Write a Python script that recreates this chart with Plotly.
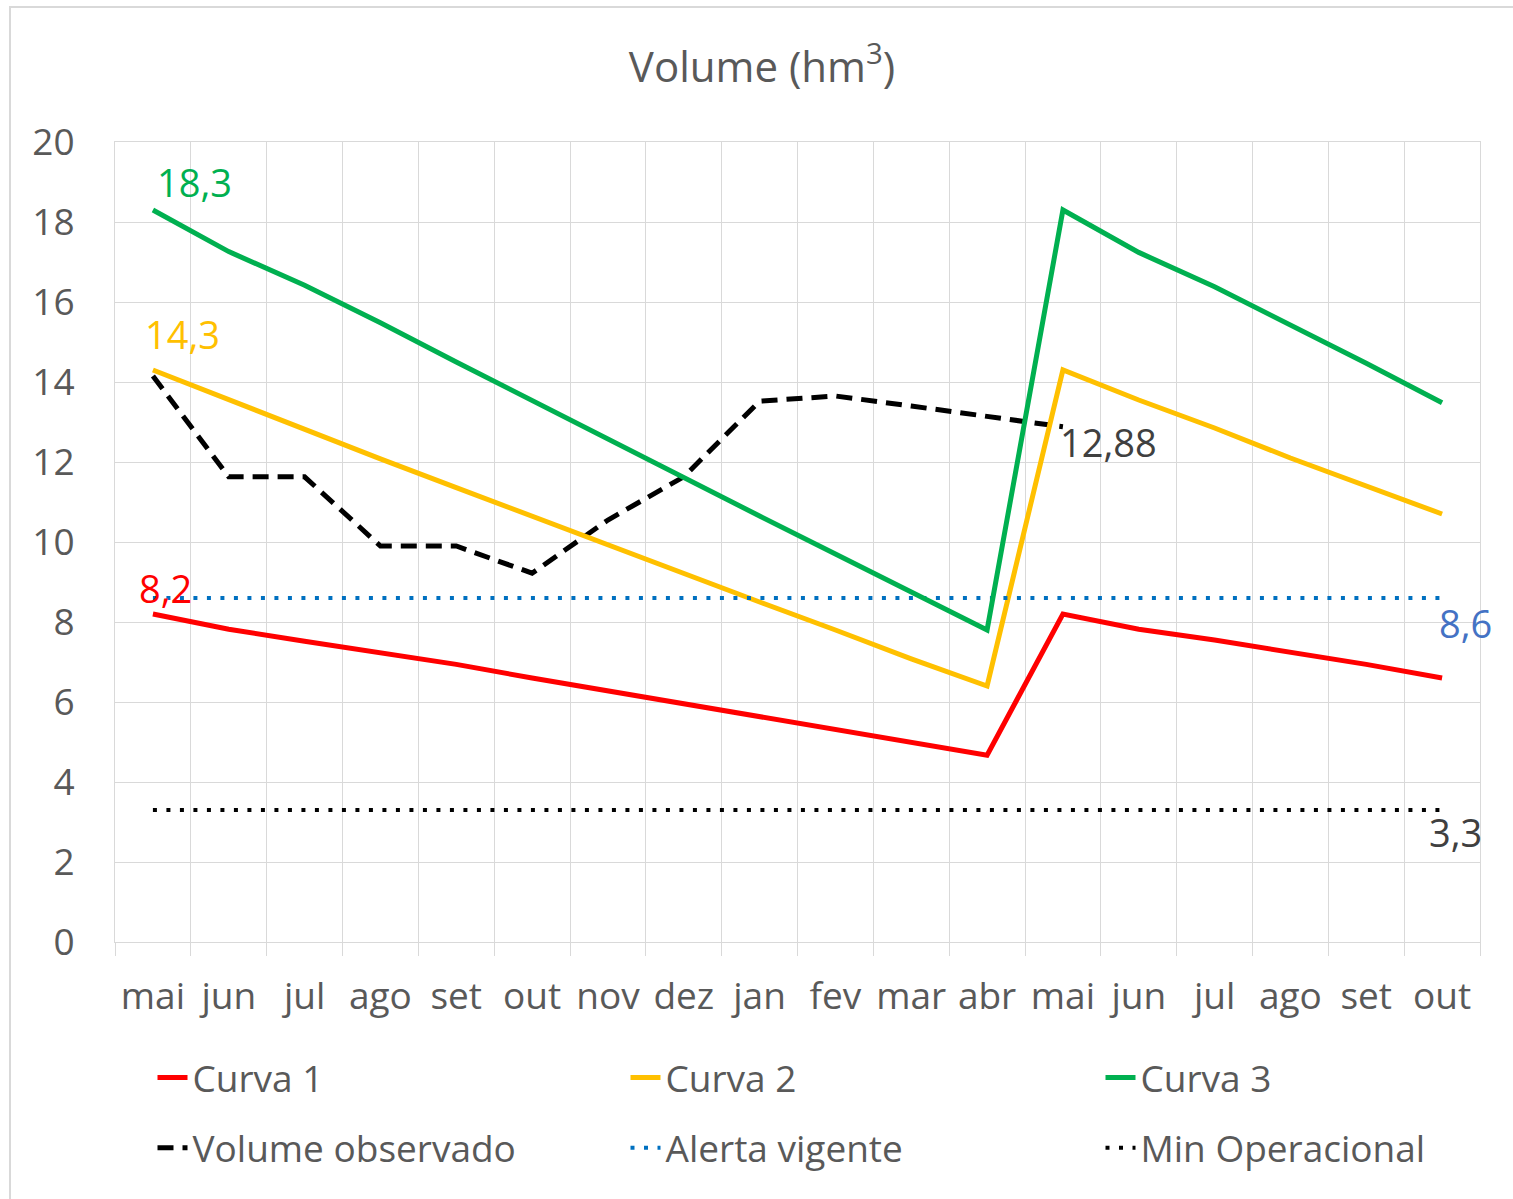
import plotly.graph_objects as go

months = ["mai", "jun", "jul", "ago", "set", "out", "nov", "dez", "jan",
          "fev", "mar", "abr", "mai", "jun", "jul", "ago", "set", "out"]
curva1 = [8.2, 7.82, 7.52, 7.24, 6.94, 6.6, 6.28, 5.95, 5.63, 5.3, 4.98, 4.67,
          8.2, 7.82, 7.55, 7.26, 6.94, 6.6]
curva2 = [14.3, 13.55, 12.82, 12.08, 11.36, 10.64, 9.92, 9.2, 8.5, 7.8, 7.08, 6.4,
          14.3, 13.55, 12.85, 12.1, 11.4, 10.7]
curva3 = [18.3, 17.26, 16.42, 15.48, 14.5, 13.53, 12.57, 11.6, 10.65, 9.7, 8.75, 7.8,
          18.3, 17.24, 16.38, 15.44, 14.47, 13.48]
observado = [14.15, 11.63, 11.63, 9.9, 9.9, 9.22, 10.55, 11.63, 13.52, 13.65, 13.4, 13.15,
             12.88]
alerta = [8.6] * 18
min_oper = [3.3] * 18
yticks = [0, 2, 4, 6, 8, 10, 12, 14, 16, 18, 20]

x = list(range(len(months)))
FONT = "Open Sans"
GRAY = "#595959"
GRID = "#D9D9D9"
FS = 37


def fmt(v):
    return str(v).replace(".", ",")


fig = go.Figure()
fig.add_trace(go.Scatter(x=x, y=curva1, mode="lines", name="Curva 1",
                         line=dict(color="#FF0000", width=5),
                         legend="legend", legendgroup="c1", legendrank=1))
fig.add_trace(go.Scatter(x=x[:len(observado)], y=observado, mode="lines",
                         name="Volume observado",
                         line=dict(color="#000000", width=5, dash="16px,9px"),
                         legend="legend", legendgroup="vo", legendrank=2))
fig.add_trace(go.Scatter(x=x, y=curva2, mode="lines", name="Curva 2",
                         line=dict(color="#FFC000", width=5),
                         legend="legend2", legendgroup="c2", legendrank=1))
fig.add_trace(go.Scatter(x=x, y=alerta, mode="lines", name="Alerta vigente",
                         line=dict(color="#0070C0", width=4, dash="4px,9.5px"),
                         legend="legend2", legendgroup="al", legendrank=2))
fig.add_trace(go.Scatter(x=x, y=curva3, mode="lines", name="Curva 3",
                         line=dict(color="#00B050", width=5),
                         legend="legend3", legendgroup="c3", legendrank=1))
fig.add_trace(go.Scatter(x=x, y=min_oper, mode="lines", name="Min Operacional",
                         line=dict(color="#000000", width=4, dash="4px,9.5px"),
                         legend="legend3", legendgroup="mo", legendrank=2))

ann_font = dict(family=FONT, size=38)
annotations = [
    dict(x=x[0], y=curva3[0], text=fmt(curva3[0]), xshift=42, yshift=28,
         font=dict(ann_font, color="#00B050")),
    dict(x=x[0], y=curva2[0], text=fmt(curva2[0]), xshift=30, yshift=36,
         font=dict(ann_font, color="#FFC000")),
    dict(x=x[0], y=curva1[0], text=fmt(curva1[0]), xshift=13, yshift=26,
         font=dict(ann_font, color="#FF0000")),
    dict(x=x[len(observado) - 1], y=observado[-1], text=fmt(observado[-1]),
         xshift=46, yshift=-15, font=dict(ann_font, color="#404040")),
    dict(x=x[-1], y=alerta[-1], text=fmt(alerta[-1]), xshift=23, yshift=-25,
         font=dict(ann_font, color="#4472C4")),
    dict(x=x[-1], y=min_oper[-1], text=fmt(min_oper[-1]), xshift=13, yshift=-22,
         font=dict(ann_font, color="#404040")),
]
for a in annotations:
    a.update(xref="x", yref="y", showarrow=False, xanchor="center", yanchor="middle")

legend_common = dict(orientation="v", xanchor="left", yanchor="middle",
                     y=(942 - 1113) / 800, tracegroupgap=19,
                     font=dict(family=FONT, size=FS, color=GRAY),
                     bgcolor="rgba(0,0,0,0)", itemclick=False, itemdoubleclick=False)

fig.update_layout(
    width=1513, height=1199,
    margin=dict(l=115, r=33, t=142, b=257, autoexpand=False),
    paper_bgcolor="white", plot_bgcolor="white",
    title=dict(text="Volume (hm<sup>3</sup>)", x=(762 - 115) / 1365, xref="paper",
               xanchor="center", y=1 - 67 / 1199, yanchor="middle",
               font=dict(family=FONT, size=42, color=GRAY)),
    showlegend=True,
    legend=dict(legend_common, x=(152.5 - 115) / 1365),
    legend2=dict(legend_common, x=(625.5 - 115) / 1365),
    legend3=dict(legend_common, x=(1100.5 - 115) / 1365),
    annotations=annotations,
    shapes=[dict(type="rect", xref="paper", yref="paper",
                 x0=(10 - 115) / 1365, x1=(1530 - 115) / 1365,
                 y0=(942 - 1230) / 800, y1=(942 - 7) / 800,
                 line=dict(color=GRID, width=2), layer="below")],
)

fig.update_xaxes(
    range=[-0.5, len(months) - 0.5],
    tickmode="array", tickvals=x, ticktext=months,
    ticks="", showgrid=False, zeroline=False,
    tickfont=dict(family=FONT, size=FS, color=GRAY),
    ticklabelstandoff=22,
    showline=True, linecolor=GRID, linewidth=1, mirror=True,
    minor=dict(tickmode="array", tickvals=[i - 0.5 for i in range(len(months) + 1)],
               showgrid=True, gridcolor=GRID, gridwidth=1,
               ticks="outside", ticklen=13, tickcolor=GRID, tickwidth=1),
)
fig.update_yaxes(
    range=[0, 20], tickmode="array", tickvals=yticks,
    ticks="", showgrid=True, gridcolor=GRID, gridwidth=1, zeroline=False,
    tickfont=dict(family=FONT, size=FS, color=GRAY),
    ticklabelstandoff=32,
    showline=True, linecolor=GRID, linewidth=1, mirror=True,
)

fig.write_html("out.html", config={"displayModeBar": False},
               post_script="document.body.style.margin='0';document.body.style.overflow='hidden';")
